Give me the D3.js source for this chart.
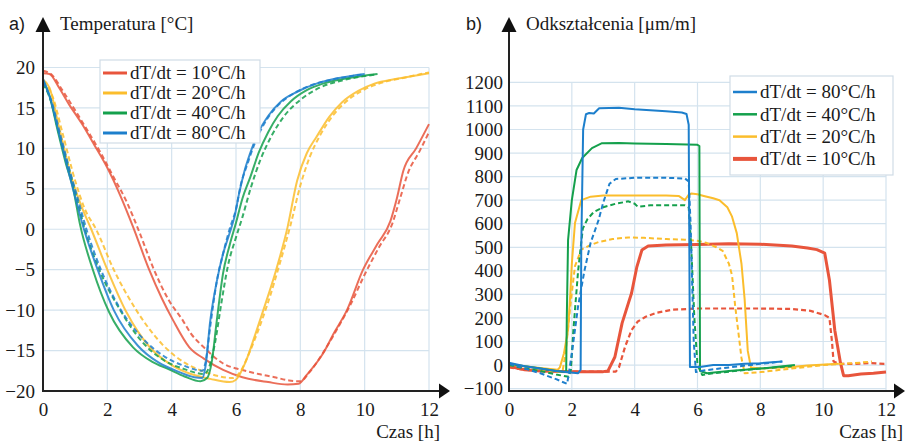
<!DOCTYPE html>
<html><head><meta charset="utf-8">
<script src="https://cdn.jsdelivr.net/npm/d3@7"></script>
<style>
body{margin:0;background:#fff}
svg{display:block}
svg text{font-family:'Liberation Serif','DejaVu Serif',serif !important;fill:#1a1a1a}
svg text.sans{font-family:'Liberation Sans','DejaVu Sans',sans-serif !important}
</style>
</head><body>
<svg id="c" width="905" height="441"></svg>
<script>
// ---------- DATA ----------
const rates = [10, 20, 40, 80];
const rateColors = ["#e8553c", "#fbbd2c", "#14a04c", "#1d7fcc"];
const legendLabels = ["dT/dt = 10°C/h", "dT/dt = 20°C/h", "dT/dt = 40°C/h", "dT/dt = 80°C/h"];
const timeTicks = [0, 2, 4, 6, 8, 10, 12];
const tempTicks = [-20, -15, -10, -5, 0, 5, 10, 15, 20];
const strainTicks = [-100, 0, 100, 200, 300, 400, 500, 600, 700, 800, 900, 1000, 1100, 1200];

// temperature [°C] vs time [h]
const temp10Solid = [[0,19.3],[0.2,19.2],[0.5,17.5],[0.8,15.5],[1.2,13.1],[1.6,10.4],[2.0,7.6],[2.4,4.2],[2.8,0.3],[3.3,-5.0],[3.7,-8.6],[4.05,-11.3],[4.55,-14.6],[5.0,-16.0],[5.6,-17.4],[6.2,-18.3],[7.0,-18.9],[7.6,-19.2],[7.95,-19.1],[8.2,-18.0],[8.7,-15.4],[9.05,-12.8],[9.45,-10.0],[9.95,-5.0],[10.4,-1.8],[10.8,1.0],[11.0,3.8],[11.2,7.2],[11.6,10.0],[12.0,13.0]];
const temp10Dash = [[0,19.6],[0.3,19.0],[0.6,17.2],[1.0,14.7],[1.4,12.1],[1.8,9.4],[2.2,6.4],[2.6,3.4],[3.0,-0.4],[3.45,-5.0],[3.9,-8.7],[4.35,-11.3],[4.6,-12.9],[5.0,-14.6],[5.6,-16.6],[6.2,-17.4],[6.7,-17.9],[7.2,-18.3],[7.65,-18.7],[8.0,-18.8],[8.3,-17.6],[8.75,-15.0],[9.15,-12.3],[9.55,-9.4],[10.0,-5.6],[10.45,-2.2],[10.85,0.6],[11.1,3.8],[11.35,7.0],[11.7,9.6],[12.0,12.0]];
const temp20Solid = [[0,18.5],[0.2,17.5],[0.5,12.6],[0.9,6.2],[1.2,2.8],[1.5,0.0],[2.0,-5.0],[2.6,-10.3],[3.3,-14.5],[4.0,-16.8],[4.6,-17.9],[5.2,-18.5],[5.8,-18.9],[6.0,-18.6],[6.3,-16.4],[6.6,-13.0],[6.85,-10.0],[7.25,-5.0],[7.6,0.2],[7.9,6.0],[8.2,9.4],[8.5,11.4],[8.9,13.9],[9.3,15.7],[9.8,17.1],[10.3,18.0],[11.0,18.6],[12.0,19.3]];
const temp20Dash = [[0,18.3],[0.3,16.4],[0.6,12.0],[1.0,6.0],[1.3,2.5],[1.65,0.0],[2.2,-5.0],[2.9,-10.0],[3.7,-14.2],[4.4,-16.5],[5.0,-17.6],[5.5,-18.2],[5.9,-18.4],[6.1,-17.8],[6.4,-15.4],[6.7,-12.4],[7.0,-9.0],[7.35,-4.4],[7.7,0.6],[8.0,5.4],[8.3,9.0],[8.6,11.5],[9.0,14.0],[9.4,15.7],[10.0,17.3],[10.6,18.2],[11.3,18.8],[12.0,19.4]];
const temp40Solid = [[0,18.4],[0.2,16.5],[0.45,12.3],[0.7,8.3],[0.95,4.8],[1.15,0.6],[1.55,-5.0],[2.05,-10.2],[2.8,-14.6],[3.4,-16.4],[3.9,-17.3],[4.4,-18.2],[4.9,-18.8],[5.1,-18.4],[5.25,-16.3],[5.4,-11.4],[5.6,-5.4],[5.8,-2.0],[6.0,0.8],[6.2,3.8],[6.45,6.5],[6.7,9.4],[7.0,12.0],[7.3,14.0],[7.7,15.8],[8.2,17.2],[8.7,18.0],[9.5,18.7],[10.4,19.2]];
const temp40Dash = [[0,18.0],[0.25,15.8],[0.5,11.8],[0.8,7.5],[1.05,3.8],[1.3,0.0],[1.75,-5.0],[2.4,-10.0],[3.1,-14.0],[3.8,-16.3],[4.4,-17.3],[5.0,-17.9],[5.15,-17.2],[5.35,-14.0],[5.55,-9.0],[5.75,-4.5],[6.0,-1.0],[6.2,1.5],[6.45,5.0],[6.75,8.5],[7.1,11.5],[7.5,14.0],[8.0,16.0],[8.6,17.5],[9.3,18.4],[10.3,19.1]];
const temp80Solid = [[0,18.6],[0.2,16.5],[0.5,11.8],[0.75,7.8],[1.0,4.0],[1.25,0.3],[1.7,-5.0],[2.2,-10.0],[2.95,-14.4],[3.6,-16.5],[4.2,-17.6],[4.7,-18.3],[4.95,-18.4],[5.05,-17.0],[5.2,-11.3],[5.4,-6.5],[5.6,-3.0],[5.8,-0.5],[5.95,1.5],[6.1,4.5],[6.25,7.0],[6.45,9.5],[6.7,12.0],[7.0,14.0],[7.4,15.8],[7.9,17.0],[8.5,18.0],[9.2,18.7],[10.0,19.2]];
const temp80Dash = [[0,18.2],[0.25,16.0],[0.55,11.5],[0.85,7.0],[1.1,3.5],[1.35,0.0],[1.8,-5.0],[2.35,-9.5],[3.1,-13.5],[3.8,-15.8],[4.4,-16.9],[4.95,-17.5],[5.05,-16.5],[5.2,-12.0],[5.4,-6.5],[5.6,-3.0],[5.8,0.0],[6.0,2.5],[6.15,5.5],[6.35,8.0],[6.6,10.8],[6.9,13.2],[7.3,15.3],[7.8,16.8],[8.4,17.9],[9.1,18.6],[9.9,19.1]];

// strain [µm/m] vs time [h]
const strain10Solid = [[0,-5],[0.5,-20],[1.0,-25],[2.0,-28],[3.0,-28],[3.15,-25],[3.37,34],[3.6,178],[3.8,263],[3.9,305],[4.07,417],[4.23,488],[4.43,505],[5.0,510],[6.0,512],[7.0,515],[8.0,513],[9.0,505],[9.5,497],[9.8,490],[10.05,475],[10.2,360],[10.37,148],[10.55,10],[10.65,-45],[10.8,-45],[11.2,-38],[11.6,-35],[12.0,-30]];
const strain10Dash = [[0,-10],[0.5,-20],[1.0,-25],[2.0,-28],[3.0,-28],[3.4,-28],[3.5,-10],[3.7,80],[3.9,148],[4.1,185],[4.35,205],[4.7,222],[5.2,235],[6.0,240],[7.0,240],[8.0,240],[9.0,238],[9.6,230],[10.05,212],[10.2,200],[10.28,100],[10.33,15],[10.5,5],[11.0,5],[11.5,8],[12.0,5]];
const strain20Solid = [[0,5],[0.5,-5],[1.0,-12],[1.55,-20],[1.62,-10],[1.75,50],[1.88,150],[1.95,300],[2.0,430],[2.1,603],[2.3,700],[2.6,715],[3.0,720],[4.0,720],[5.0,720],[5.4,718],[5.6,700],[5.7,720],[5.8,728],[6.0,725],[6.2,718],[6.5,708],[6.7,700],[6.95,670],[7.1,630],[7.25,560],[7.4,430],[7.5,280],[7.6,60],[7.7,-10],[8.0,-15],[8.5,-12],[9.0,-8],[9.5,-2],[10.5,5]];
const strain20Dash = [[0,0],[0.5,-10],[1.0,-20],[1.5,-28],[1.7,-30],[1.8,50],[1.95,250],[2.1,420],[2.3,490],[2.6,510],[2.85,522],[3.3,535],[3.8,542],[4.3,540],[5.0,535],[5.6,532],[6.0,528],[6.3,518],[6.6,500],[6.8,485],[7.0,430],[7.1,380],[7.2,250],[7.3,140],[7.4,30],[7.5,-35],[8.0,-30],[9.0,-15],[10.0,0],[11.0,8],[11.55,15]];
const strain40Solid = [[0,5],[0.5,-5],[1.0,-15],[1.5,-25],[1.82,-30],[1.84,200],[1.88,530],[2.0,700],[2.1,785],[2.15,828],[2.33,879],[2.64,921],[2.96,942],[3.5,943],[4.0,941],[5.0,938],[6.0,935],[6.06,930],[6.08,-25],[6.3,-35],[7.0,-25],[8.0,-15],[9.1,0]];
const strain40Dash = [[0,0],[0.5,-15],[1.0,-25],[1.5,-40],[1.9,-50],[1.97,-20],[2.05,150],[2.2,400],[2.35,580],[2.5,620],[2.7,650],[3.0,670],[3.4,685],[3.8,695],[4.0,685],[4.1,672],[4.5,678],[5.0,678],[5.6,678],[5.72,670],[5.8,500],[5.9,200],[6.0,0],[6.15,-42],[6.5,-35],[7.0,-28],[8.0,-15],[9.0,-5]];
const strain80Solid = [[0,10],[0.5,-5],[1.0,-15],[1.5,-25],[2.2,-35],[2.28,-20],[2.3,500],[2.36,1000],[2.45,1065],[2.55,1070],[2.7,1068],[2.87,1090],[3.5,1092],[4.0,1086],[4.5,1082],[5.0,1078],[5.5,1072],[5.65,1066],[5.72,1020],[5.76,-8],[6.08,-8],[6.5,0],[7.0,0],[7.5,5],[8.0,8],[8.7,15]];
const strain80Dash = [[0,5],[0.5,-15],[1.0,-35],[1.5,-60],[1.85,-80],[1.9,-40],[2.0,50],[2.2,250],[2.4,400],[2.6,520],[2.85,615],[3.0,690],[3.2,770],[3.4,790],[4.0,795],[5.0,795],[5.6,792],[5.72,780],[5.78,600],[5.82,400],[5.88,100],[5.95,-30],[6.1,-25],[7.0,-10],[8.0,5],[8.7,15]];

// ---------- SETUP ----------
const svg = d3.select("#c");
const color = d3.scaleOrdinal(rates, rateColors);
const gridColor = "#d4e3ee";
const fs = 19;

const tempSeries = [
  {rate:10, dash:false, data:temp10Solid},{rate:10, dash:true, data:temp10Dash},
  {rate:20, dash:false, data:temp20Solid},{rate:20, dash:true, data:temp20Dash},
  {rate:40, dash:false, data:temp40Solid},{rate:40, dash:true, data:temp40Dash},
  {rate:80, dash:false, data:temp80Solid},{rate:80, dash:true, data:temp80Dash}
];
const strainSeries = [
  {rate:10, dash:false, data:strain10Solid},{rate:10, dash:true, data:strain10Dash},
  {rate:20, dash:false, data:strain20Solid},{rate:20, dash:true, data:strain20Dash},
  {rate:40, dash:false, data:strain40Solid},{rate:40, dash:true, data:strain40Dash},
  {rate:80, dash:false, data:strain80Solid},{rate:80, dash:true, data:strain80Dash}
];

function panel(opt){
  const g = svg.append("g");
  const x = d3.scaleLinear([0,12],[opt.x0,opt.x1]);
  const y = d3.scaleLinear(opt.yDomain,[opt.yBottom,opt.yTop]);
  const axisY = opt.axisY;
  // grid
  g.append("g").selectAll("line").data(opt.yTicks.filter(v=>y(v)<axisY-2)).join("line")
    .attr("x1",opt.x0).attr("x2",x(12)).attr("y1",d=>y(d)).attr("y2",d=>y(d))
    .attr("stroke",gridColor).attr("stroke-width",1.2);
  g.append("g").selectAll("line").data(timeTicks.filter(t=>t>0)).join("line")
    .attr("x1",d=>x(d)).attr("x2",d=>x(d)).attr("y1",y(opt.yTicks[opt.yTicks.length-1])).attr("y2",axisY)
    .attr("stroke",gridColor).attr("stroke-width",1.2);
  // lines
  const line = d3.line().x(d=>x(d[0])).y(d=>y(d[1])).curve(opt.curve);
  const ser = opt.order.flatMap(r=>opt.series.filter(s=>s.rate===r));
  g.append("g").selectAll("path").data(ser).join("path")
    .attr("d",d=>line(d.data)).attr("fill","none")
    .attr("stroke",d=>color(d.rate))
    .attr("stroke-width",d=>opt.width(d))
    .attr("stroke-opacity",opt.opacity)
    .attr("stroke-dasharray",d=>d.dash?"5,3":null)
    .attr("stroke-linejoin","round");
  // tick labels
  const ya = g.append("g").attr("transform",`translate(${opt.x0},0)`)
    .call(d3.axisLeft(y).tickValues(opt.yTicks).tickSize(0).tickPadding(opt.yPad).tickFormat(d3.format("d")));
  ya.select(".domain").remove();
  ya.selectAll("text").attr("font-size",fs);
  const xa = g.append("g").attr("transform",`translate(0,${axisY})`)
    .call(d3.axisBottom(x).tickValues(timeTicks).tickSize(0).tickPadding(12).tickFormat(d3.format("d")));
  xa.select(".domain").remove();
  xa.selectAll("text").attr("font-size",fs);
  // axes with arrows
  g.append("line").attr("x1",opt.x0).attr("x2",opt.x0).attr("y1",axisY+1).attr("y2",28)
    .attr("stroke","#222").attr("stroke-width",2);
  g.append("path").attr("d",`M${opt.x0-7.5},32 L${opt.x0},17 L${opt.x0+7.5},32 Z`).attr("fill","#111");
  g.append("line").attr("x1",opt.x0-1).attr("x2",opt.arrowX-8).attr("y1",axisY).attr("y2",axisY)
    .attr("stroke","#222").attr("stroke-width",2);
  g.append("path").attr("d",`M${opt.arrowX-11},${axisY-7.5} L${opt.arrowX},${axisY} L${opt.arrowX-11},${axisY+7.5} Z`).attr("fill","#111");
  // titles
  g.append("text").attr("class","sans").attr("x",opt.labelX).attr("y",30)
    .attr("font-size",18).text(opt.letter);
  g.append("text").attr("x",opt.x0+17).attr("y",30).attr("font-size",fs).text(opt.title);
  g.append("text").attr("x",opt.czasX).attr("y",438).attr("text-anchor","end").attr("font-size",fs).text("Czas [h]");
  // legend
  const L = opt.legend;
  const lg = g.append("g");
  lg.append("rect").attr("x",L.x).attr("y",L.y).attr("width",L.w).attr("height",L.h)
    .attr("fill","#fff").attr("stroke","#d0dce6").attr("stroke-width",1.2);
  const rows = lg.selectAll("g.row").data(L.order).join("g").attr("class","row")
    .attr("transform",(d,i)=>`translate(${L.x},${L.y+L.first+i*L.step})`);
  rows.append("line").attr("x1",3).attr("x2",27).attr("y1",0).attr("y2",0)
    .attr("stroke",d=>color(d)).attr("stroke-width",d=>L.sw(d));
  rows.append("text").attr("x",30).attr("y",0).attr("dy","0.34em").attr("font-size",fs)
    .text(d=>legendLabels[rates.indexOf(d)]);
}

panel({
  x0:43, x1:429, yDomain:[-20,20], yBottom:391, yTop:67.5, axisY:391, yTicks:tempTicks, yPad:8,
  arrowX:450, labelX:9, letter:"a)", title:"Temperatura [°C]", czasX:440,
  series:tempSeries, order:[10,20,40,80], opacity:0.85, width:d=>2, curve:d3.curveMonotoneX,
  legend:{x:100,y:60,w:160,h:83,first:13,step:20,order:[10,20,40,80],sw:d=>3}
});
panel({
  x0:509, x1:886, yDomain:[-100,1200], yBottom:388.6, yTop:82.4, axisY:391, yTicks:strainTicks, yPad:6,
  arrowX:905, labelX:466, letter:"b)", title:"Odkształcenia [μm/m]", czasX:903,
  series:strainSeries, order:[10,20,40,80], opacity:1, width:d=>d.rate===10?(d.dash?2.2:3):2, curve:d3.curveLinear,
  legend:{x:730,y:76,w:163,h:99,first:16,step:22.3,order:[80,40,20,10],sw:d=>d===10?4:2.5}
});
</script>
</body></html>
